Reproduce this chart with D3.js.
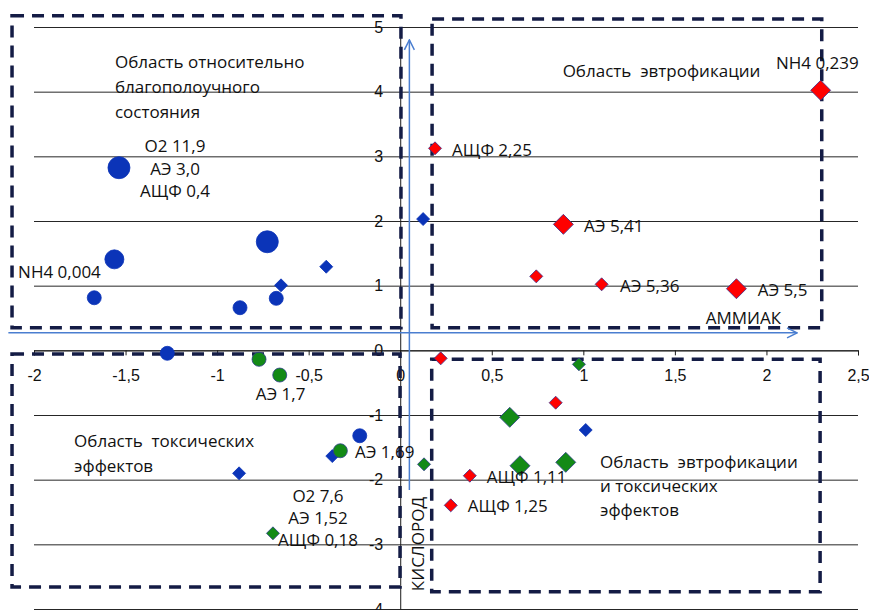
<!DOCTYPE html>
<html>
<head>
<meta charset="utf-8">
<script src="https://cdnjs.cloudflare.com/ajax/libs/d3/7.8.5/d3.min.js"></script>
<style>
    body { margin: 0; background: #fff; }
    svg { display: block; font-family: 'Open Sans', 'Liberation Sans', sans-serif; }
    .grid line { stroke: #262626; stroke-width: 1; }
    .grid path { display: none; }
    .axis path, .axis line { stroke: #1a1a1a; }
    .axis text { font-size: 16px; fill: #111; }
    .note { font-size: 17px; fill: #111; white-space: pre; }
    .region { fill: none; stroke: #141c45; stroke-width: 3.5; stroke-dasharray: 12 8; }
    .arrow { stroke: #4a7ed0; stroke-width: 1.5; fill: none; }
</style>
</head>
<body>
<svg class="chart"></svg>
<script>
// x = аммиак, y = кислород
var xTicks = [-2, -1.5, -1, -0.5, 0, 0.5, 1, 1.5, 2, 2.5];
var yTicks = [-4, -3, -2, -1, 0, 1, 2, 3, 4, 5];

// blue circles
var blueCircX = [-1.536, -1.561, -0.726, -1.671, -0.875, -0.677, -1.272, -0.221];
var blueCircY = [2.824, 1.407, 1.679, 0.813, 0.659, 0.804, -0.046, -1.321];
var blueCircW = [3, 2, 3, 1, 1, 1, 1, 1];

// blue diamonds
var blueDiaX = [-0.404, -0.651, 0.125, -0.371, -0.880, 1.013];
var blueDiaY = [1.293, 1.005, 2.030, -1.635, -1.902, -1.232];
var blueDiaW = [1, 1, 1, 1, 1, 1];

// green circles
var greenCircX = [-0.771, -0.658, -0.327];
var greenCircY = [-0.139, -0.382, -1.553];
var greenCircW = [1, 1, 1];

// green diamonds
var greenDiaX = [-0.695, 0.130, 0.976, 0.598, 0.654, 0.904];
var greenDiaY = [-2.830, -1.763, -0.216, -1.036, -1.785, -1.732];
var greenDiaW = [1, 1, 1, 3, 3, 3];

// red diamonds
var redDiaX = [0.190, 0.891, 0.743, 1.100, 1.836, 2.296, 0.221, 0.849, 0.380, 0.276];
var redDiaY = [3.124, 1.948, 1.144, 1.021, 0.953, 4.021, -0.124, -0.810, -1.939, -2.397];
var redDiaW = [1, 3, 1, 1, 3, 3, 1, 1, 1, 1];

// Margins
var margin = { top: 27, right: 11, bottom: 1, left: 34 },
    width = 869 - margin.left - margin.right,
    height = 610 - margin.top - margin.bottom;

var svg = d3.select('.chart')
    .attr('width', width + margin.left + margin.right)
    .attr('height', height + margin.top + margin.bottom);

var chart = svg.append('g')
    .attr('transform', 'translate(' + margin.left + ',' + margin.top + ')');

var x = d3.scaleLinear().domain([-2, 2.5]).range([0, width]);
var y = d3.scaleLinear().domain([-4, 5]).range([height, 0]);

// marker sizes by weight
var radius = d3.scaleOrdinal().domain([1, 2, 3]).range([7, 9.5, 11]);
var halfDiag = d3.scaleOrdinal().domain([1, 2, 3]).range([6.5, 8.5, 10]);

var fmt = function (d) { return String(d).replace('.', ','); };

// arrow head
svg.append('defs').append('marker')
    .attr('id', 'head')
    .attr('viewBox', '0 0 12 12')
    .attr('refX', 11).attr('refY', 6)
    .attr('markerWidth', 12).attr('markerHeight', 12)
    .attr('markerUnits', 'userSpaceOnUse')
    .attr('orient', 'auto')
    .append('path')
    .attr('d', 'M1,1 L11,6 L1,11')
    .attr('class', 'arrow');

// horizontal gridlines
chart.append('g')
    .attr('class', 'grid')
    .call(d3.axisLeft(y).tickValues(yTicks).tickSize(-width).tickFormat(''));

// x axis on y = 0
chart.append('g')
    .attr('class', 'x axis')
    .attr('transform', 'translate(0,' + y(0) + ')')
    .call(d3.axisBottom(x).tickValues(xTicks).tickSizeOuter(0).tickSize(5).tickPadding(14).tickFormat(fmt));

// y axis on x = 0
chart.append('g')
    .attr('class', 'y axis')
    .attr('transform', 'translate(' + x(0) + ',0)')
    .call(d3.axisLeft(y).tickValues(yTicks).tickSizeOuter(0).tickSize(0).tickPadding(17).tickFormat(fmt));

// dashed regions [x0, x1, yTop, yBottom]
var regions = [
    [-2.12, 0.004, 5.175, 0.35],
    [0.174, 2.302, 5.124, 0.35],
    [-2.12, -0.001, -0.057, -3.66],
    [0.172, 2.293, -0.139, -3.732]
];
chart.selectAll('.region')
    .data(regions)
    .enter()
    .append('rect')
    .attr('class', 'region')
    .attr('x', function (d) { return x(d[0]); })
    .attr('y', function (d) { return y(d[2]); })
    .attr('width', function (d) { return x(d[1]) - x(d[0]); })
    .attr('height', function (d) { return y(d[3]) - y(d[2]); });

// blue arrows
chart.append('line').attr('class', 'arrow')
    .attr('x1', x(0.05)).attr('y1', y(-2.16))
    .attr('x2', x(0.05)).attr('y2', y(4.8))
    .attr('marker-end', 'url(#head)');
chart.append('line').attr('class', 'arrow')
    .attr('x1', x(-2.14)).attr('y1', y(0.27))
    .attr('x2', x(2.167)).attr('y2', y(0.27))
    .attr('marker-end', 'url(#head)');

// helpers
function zip(xs, ys, ws) {
    return xs.map(function (d, i) { return { x: d, y: ys[i], w: ws[i] }; });
}

function drawCircles(data, fill, stroke) {
    chart.append('g').selectAll('circle')
        .data(data)
        .enter()
        .append('circle')
        .attr('cx', function (d) { return x(d.x); })
        .attr('cy', function (d) { return y(d.y); })
        .attr('r', function (d) { return radius(d.w); })
        .attr('fill', fill)
        .attr('stroke', stroke)
        .attr('stroke-width', 0.8);
}

function drawDiamonds(data, fill, stroke) {
    chart.append('g').selectAll('path')
        .data(data)
        .enter()
        .append('path')
        .attr('d', function (d) {
            var h = halfDiag(d.w);
            return 'M0,' + (-h) + 'L' + h + ',0L0,' + h + 'L' + (-h) + ',0Z';
        })
        .attr('transform', function (d) { return 'translate(' + x(d.x) + ',' + y(d.y) + ')'; })
        .attr('fill', fill)
        .attr('stroke', stroke)
        .attr('stroke-width', 0.8);
}

drawCircles(zip(blueCircX, blueCircY, blueCircW), '#0b34b8', '#0b34b8');
drawDiamonds(zip(blueDiaX, blueDiaY, blueDiaW), '#0b34b8', '#0b34b8');
drawCircles(zip(greenCircX, greenCircY, greenCircW), '#138a16', '#2c3f88');
drawDiamonds(zip(greenDiaX, greenDiaY, greenDiaW), '#138a16', '#2c3f88');
drawDiamonds(zip(redDiaX, redDiaY, redDiaW), '#ff0000', '#3a2f8a');

// text notes: lines, x, y (baseline of first line), anchor, line step
var notes = [
    [['Область относительно', 'благополоучного', 'состояния'], -1.558, 4.365, 'start', 25],
    [['Область  эвтрофикации'], 0.887, 4.226, 'start', 0],
    [['Область  токсических', 'эффектов'], -1.781, -1.5, 'start', 24.5],
    [['Область  эвтрофикации', 'и токсических', 'эффектов'], 1.091, -1.825, 'start', 24],
    [['О2 11,9', 'АЭ 3,0', 'АЩФ 0,4'], -1.23, 3.066, 'middle', 22.5],
    [['NH4 0,004'], -2.087, 1.118, 'start', 0],
    [['NH4 0,239'], 2.052, 4.351, 'start', 0],
    [['АЩФ 2,25'], 0.283, 3.009, 'start', 0],
    [['АЭ 5,41'], 1.004, 1.834, 'start', 0],
    [['АЭ 5,36'], 1.2, 0.906, 'start', 0],
    [['АЭ 5,5'], 1.952, 0.844, 'start', 0],
    [['АЭ 1,7'], -0.789, -0.769, 'start', 0],
    [['АЭ 1,69'], -0.247, -1.67, 'start', 0],
    [['О2 7,6', 'АЭ 1,52', 'АЩФ 0,18'], -0.449, -2.341, 'middle', 22],
    [['АЩФ 1,11'], 0.472, -2.057, 'start', 0],
    [['АЩФ 1,25'], 0.369, -2.496, 'start', 0],
    [['АММИАК'], 1.668, 0.407, 'start', 0]
];

notes.forEach(function (n) {
    var t = chart.append('text')
        .attr('class', 'note')
        .attr('x', x(n[1]))
        .attr('y', y(n[2]))
        .attr('text-anchor', n[3]);
    n[0].forEach(function (line, i) {
        t.append('tspan')
            .attr('x', x(n[1]))
            .attr('dy', i === 0 ? 0 : n[4])
            .text(line);
    });
});

// vertical axis title
chart.append('text')
    .attr('class', 'note')
    .attr('transform', 'translate(' + x(0.13) + ',' + y(-2.995) + ') rotate(-90)')
    .attr('text-anchor', 'middle')
    .text('КИСЛОРОД');
</script>
</body>
</html>
